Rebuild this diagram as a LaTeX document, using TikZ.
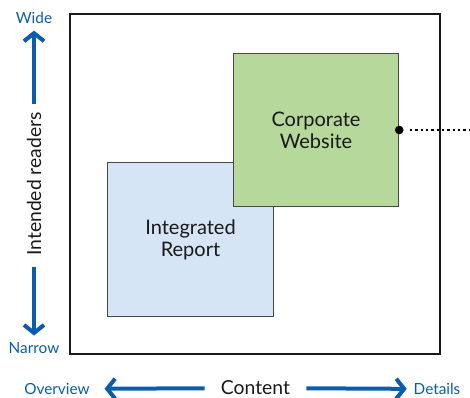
\documentclass[tikz,border=0pt]{standalone}
\usepackage{fontspec}
\setmainfont{Lato}
\usetikzlibrary{arrows.meta,positioning}
\definecolor{axisblue}{RGB}{10,92,172}
\definecolor{skyfill}{RGB}{213,229,246}
\definecolor{leaffill}{RGB}{182,216,154}
\definecolor{ink}{RGB}{25,25,25}
\tikzset{
  >={Straight Barb[length=6pt,width=15pt]},
  panel/.style={draw=ink!80,fill=#1,line width=0.9pt,minimum width=124pt,
    minimum height=115pt,align=center,font=\fontsize{15}{16.5}\selectfont,text=ink},
  panel/.default=skyfill,
  endlabel/.style={font=\fontsize{11.5}{13}\selectfont,text=axisblue,inner sep=2pt},
  axis/.style={->,line width=3pt,draw=axisblue},
  axistitle/.style={font=\fontsize{14.5}{16}\selectfont,text=ink,inner sep=0pt},
}
\begin{document}
\begin{tikzpicture}[x=0.75pt,y=-0.75pt]
  \useasboundingbox (0,0) rectangle (470,398);
  \node[draw=ink,line width=0.8pt,minimum width=277.5pt,minimum height=255pt] (frame) at (255,184) {};
  \node[panel] (report) at (190.5,239.5) {Integrated\\Report};
  \node[panel=leaffill] (site) at (316,130) {Corporate\\Website};
  \fill[black] (site.east) circle (4.3);
  \coordinate (tail) at (472,130);
  \draw[line width=1.8pt,dash pattern=on 1.8pt off 2.2pt] ([xshift=8pt]site.east) -- (tail);
  % readers axis
  \node[axistitle,rotate=90] (readers) at (34,184) {Intended readers};
  \node[endlabel] (wide) at (34,18) {Wide};
  \node[endlabel] (narrow) at (34,348) {Narrow};
  \draw[axis,shorten <=6pt,shorten >=3pt] (readers.east) -- (wide.south);
  \draw[axis,shorten <=8pt,shorten >=3pt] (readers.west) -- (narrow.north);
  % content axis
  \node[axistitle] (content) at (255.5,388) {Content};
  \node[endlabel] (overview) at (57,389) {Overview};
  \node[endlabel] (details) at (437,389) {Details};
  \foreach \e/\g in {overview/9pt,details/3pt}
    \draw[axis,shorten <=12pt,shorten >=\g] (content) -- (\e);
\end{tikzpicture}
\end{document}
